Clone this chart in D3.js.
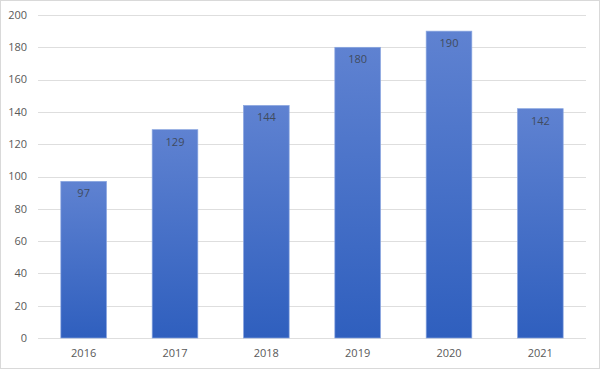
<!DOCTYPE html>
<html>
<head>
<meta charset="utf-8">
<script src="https://cdn.jsdelivr.net/npm/d3@7"></script>
<style>
  body { margin: 0; background: #fff; }
  svg { display: block; font-family: "Open Sans", "Noto Sans", sans-serif; }
</style>
</head>
<body>
<svg id="chart" width="600" height="369"></svg>
<script>
const years = ["2016", "2017", "2018", "2019", "2020", "2021"];
const counts = [97, 129, 144, 180, 190, 142];
const yTicks = [0, 20, 40, 60, 80, 100, 120, 140, 160, 180, 200];

const svg = d3.select("#chart");
const W = 600, H = 369;
const m = { top: 15, right: 14, bottom: 31, left: 38 };

// outer frame
svg.append("rect")
  .attr("x", 0.5).attr("y", 0.5)
  .attr("width", W - 1).attr("height", H - 1)
  .attr("fill", "#fff").attr("stroke", "#d9d9d9");

const x = d3.scaleBand().domain(years).range([m.left, W - m.right]).paddingInner(0.5).paddingOuter(0.25);
const y = d3.scaleLinear().domain([0, 200]).range([H - m.bottom, m.top]);

// gradient per bar, light at top, dark at bottom
const grad = svg.append("defs").append("linearGradient").attr("id", "barGrad")
  .attr("x1", 0).attr("y1", 0).attr("x2", 0).attr("y2", 1);
grad.append("stop").attr("offset", 0).attr("stop-color", "#5f82d1");
grad.append("stop").attr("offset", 1).attr("stop-color", "#2f5fbe");

// gridlines
svg.append("g")
  .selectAll("line")
  .data(yTicks)
  .join("line")
    .attr("x1", m.left).attr("x2", W - m.right)
    .attr("y1", d => Math.round(y(d)) + 0.5)
    .attr("y2", d => Math.round(y(d)) + 0.5)
    .attr("stroke", "#dedede");

// y labels
svg.append("g")
  .selectAll("text")
  .data(yTicks)
  .join("text")
    .attr("x", 27)
    .attr("y", d => y(d))
    .attr("dy", "0.35em")
    .attr("text-anchor", "end")
    .attr("font-size", 11)
    .attr("fill", "#595959")
    .text(d => d);

// bars
const data = years.map((yr, i) => ({ yr, v: counts[i] }));
svg.append("g")
  .selectAll("rect")
  .data(data)
  .join("rect")
    .attr("x", d => x(d.yr))
    .attr("y", d => y(d.v))
    .attr("width", x.bandwidth())
    .attr("height", d => y(0) - y(d.v))
    .attr("fill", "url(#barGrad)")
    .attr("stroke", "#8aa6e0")
    .attr("stroke-width", 0.7);

// value labels
svg.append("g")
  .selectAll("text")
  .data(data)
  .join("text")
    .attr("x", d => x(d.yr) + x.bandwidth() / 2)
    .attr("y", d => y(d.v) + 12)
    .attr("dy", "0.35em")
    .attr("text-anchor", "middle")
    .attr("font-size", 11)
    .attr("fill", "#404b5e")
    .text(d => d.v);

// x labels
svg.append("g")
  .selectAll("text")
  .data(years)
  .join("text")
    .attr("x", d => x(d) + x.bandwidth() / 2)
    .attr("y", 353)
    .attr("dy", "0.35em")
    .attr("text-anchor", "middle")
    .attr("font-size", 11)
    .attr("fill", "#595959")
    .text(d => d);
</script>
</body>
</html>
